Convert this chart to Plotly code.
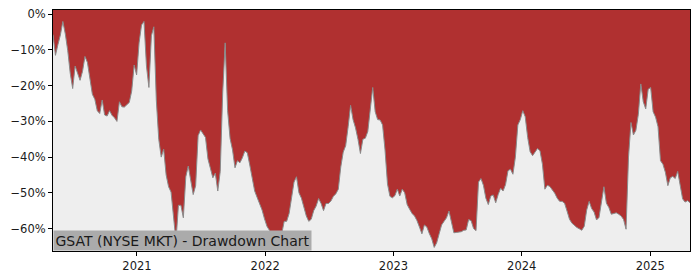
import pandas as pd
import plotly.graph_objects as go

# Weekly drawdown readings (percent), GSAT, starting 2020-05-07
start_date = "2020-05-07"
drawdown_pct = [
    -5.7, -11.5, -8.5, -5.8, -2.0, -5.5, -10.2, -16.5, -20.8, -14.5,
    -16.5, -18.5, -16.0, -11.8, -13.5, -18.5, -22.4, -23.8, -27.0, -27.8,
    -24.0, -28.2, -28.5, -27.0, -28.3, -29.0, -30.0, -24.5, -25.9, -26.0,
    -25.2, -24.7, -21.5, -14.2, -17.0, -8.0, -3.0, -2.0, -14.5, -20.5,
    -6.0, -3.5, -24.0, -35.0, -40.0, -37.8, -45.0, -48.3, -49.8, -56.0,
    -63.5, -53.5, -53.5, -57.0, -45.5, -42.5, -46.0, -50.5, -48.0, -34.0,
    -32.4, -33.5, -34.5, -40.5, -43.0, -45.8, -44.5, -49.5, -44.0, -22.0,
    -8.0, -27.0, -34.8, -38.0, -43.0, -41.0, -41.6, -40.2, -38.3, -38.8,
    -42.2, -45.5, -49.5, -51.3, -53.0, -54.8, -57.3, -59.4, -60.5, -62.0,
    -62.5, -61.5, -62.5, -61.5, -58.0, -58.0, -55.8, -51.5, -47.0, -45.5,
    -50.0, -51.5, -54.0, -56.5, -58.0, -57.4, -55.0, -53.7, -51.6, -53.0,
    -55.0, -53.0, -53.0, -52.3, -51.0, -50.3, -49.0, -42.8, -38.6, -36.8,
    -31.5, -25.5, -29.5, -31.8, -35.0, -39.0, -35.0, -34.7, -32.8, -27.0,
    -20.5, -27.3, -29.5, -29.6, -31.0, -38.0, -47.5, -51.0, -51.4, -50.8,
    -49.0, -50.9, -49.0, -50.0, -53.3, -54.6, -55.8, -56.5, -57.8, -59.6,
    -61.5, -59.0, -59.6, -61.4, -62.9, -65.3, -64.0, -61.5, -59.0, -58.0,
    -57.0, -55.1, -58.5, -61.2, -61.1, -61.1, -60.9, -60.5, -60.4, -57.5,
    -57.8, -60.0, -60.6, -47.0, -46.0, -47.9, -51.5, -53.3, -50.9, -50.6,
    -52.8, -50.5, -48.7, -49.5, -47.7, -43.8, -43.4, -44.8, -40.0, -31.0,
    -29.5, -27.0, -28.7, -34.5, -38.5, -39.6, -38.6, -37.6, -38.2, -42.0,
    -49.0, -47.9, -48.2, -49.2, -50.1, -51.5, -52.4, -52.4, -52.9, -55.1,
    -57.4, -58.5, -59.2, -59.7, -60.1, -60.5, -59.4, -54.8, -52.4, -54.4,
    -55.4, -57.6, -56.9, -52.5, -48.3, -52.9, -54.1, -56.0, -55.8, -55.6,
    -56.0, -56.5, -57.5, -60.2, -40.0, -30.3, -33.8, -32.5, -28.0, -19.5,
    -24.5, -26.5, -21.0, -20.5, -27.3, -28.8, -31.5, -41.0, -42.0, -44.3,
    -48.0, -45.8, -45.4, -46.0, -44.0, -48.5, -51.7, -52.6, -52.2, -52.8,
]
dates = pd.date_range(start_date, periods=len(drawdown_pct), freq="7D")

y_tick_vals = [0, -10, -20, -30, -40, -50, -60]
y_tick_text = ["0%", "\u221210%", "\u221220%", "\u221230%", "\u221240%", "\u221250%", "\u221260%"]
x_tick_vals = ["2021-01-01", "2022-01-01", "2023-01-01", "2024-01-01", "2025-01-01"]
x_tick_text = ["2021", "2022", "2023", "2024", "2025"]
title_text = "GSAT (NYSE MKT) - Drawdown Chart"

RED = "#B03030"
GRAY_BG = "#EEEEEE"

fig = go.Figure()
fig.add_trace(go.Scatter(
    x=dates, y=[-80] * len(dates), mode="lines",
    line=dict(width=0, color=GRAY_BG), hoverinfo="skip", showlegend=False,
))
fig.add_trace(go.Scatter(
    x=dates, y=drawdown_pct, mode="lines",
    line=dict(width=1, color="#8a8a8a"),
    fill="tonexty", fillcolor=GRAY_BG, showlegend=False,
))

fig.update_layout(
    width=700, height=280,
    margin=dict(l=53, r=10, t=7, b=28),
    paper_bgcolor="white", plot_bgcolor=RED,
    font=dict(family="DejaVu Sans", size=11.5, color="#1a1a1a"),
    showlegend=False,
)
fig.update_xaxes(
    range=["2020-05-07", "2025-04-24"],
    tickvals=x_tick_vals, ticktext=x_tick_text,
    showgrid=False, zeroline=False,
    showline=True, mirror=True, linecolor="black", linewidth=1,
    ticks="outside", ticklen=4, tickcolor="black",
)
fig.update_yaxes(
    range=[-66.3, 1.2],
    tickvals=y_tick_vals, ticktext=y_tick_text,
    showgrid=False, zeroline=False,
    showline=True, mirror=True, linecolor="black", linewidth=1,
    ticks="outside", ticklen=4, tickcolor="black",
)
fig.add_annotation(
    text=title_text, xref="paper", yref="paper", x=0, y=0,
    xanchor="left", yanchor="bottom", showarrow=False,
    bgcolor="#ABABAB", borderpad=1.5,
    font=dict(family="DejaVu Sans", size=14, color="#1a1a1a"),
)

fig.write_html("out.html")
